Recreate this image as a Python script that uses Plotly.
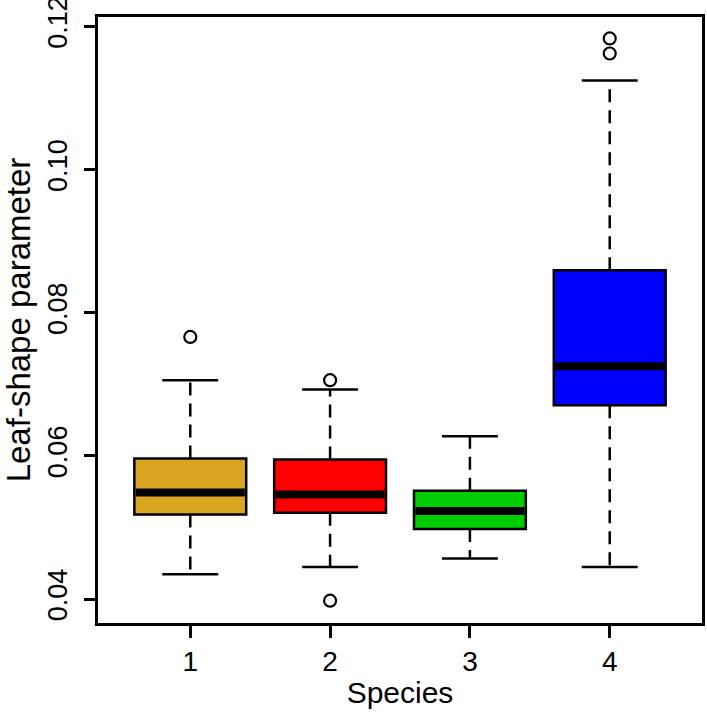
import plotly.graph_objects as go

species = [1, 2, 3, 4]
colors = ["#DAA520", "#FF0000", "#00CD00", "#0000FF"]
lower_whisker = [0.04345, 0.04447, 0.04568, 0.04447]
q1 = [0.05182, 0.05205, 0.04977, 0.06709]
median = [0.05490, 0.05462, 0.05229, 0.07253]
q3 = [0.05964, 0.05950, 0.05512, 0.08593]
upper_whisker = [0.07058, 0.06928, 0.06276, 0.11246]
outliers = [[0.07662], [0.07058, 0.03977], [], [0.11623, 0.11833]]

y_ticks = [0.04, 0.06, 0.08, 0.10, 0.12]
y_tick_labels = ["0.04", "0.06", "0.08", "0.10", "0.12"]
x_tick_labels = ["1", "2", "3", "4"]

BOX_HALF = 0.4
CAP_HALF = 0.2
FAMILY = "Liberation Sans, Arial, sans-serif"
TICKFONT = dict(family=FAMILY, size=27, color="black")
XTICKFONT = dict(family=FAMILY, size=28, color="black")
XTITLEFONT = dict(family=FAMILY, size=30, color="black")
YTITLEFONT = dict(family=FAMILY, size=33, color="black")

fig = go.Figure()

# boxes
fig.add_trace(go.Bar(
    x=species, base=q1, y=[b - a for a, b in zip(q1, q3)], width=2 * BOX_HALF,
    marker=dict(color=colors, line=dict(color="black", width=2.5)),
    showlegend=False, hoverinfo="skip"))

for i, s in enumerate(species):
    # dashed whiskers
    fig.add_trace(go.Scatter(
        x=[s, s, None, s, s], y=[q3[i], upper_whisker[i], None, q1[i], lower_whisker[i]],
        mode="lines", line=dict(color="black", width=2.5, dash="13px,8px"),
        showlegend=False, hoverinfo="skip"))
    # caps
    fig.add_trace(go.Scatter(
        x=[s - CAP_HALF, s + CAP_HALF, None, s - CAP_HALF, s + CAP_HALF],
        y=[upper_whisker[i], upper_whisker[i], None, lower_whisker[i], lower_whisker[i]],
        mode="lines", line=dict(color="black", width=2.5),
        showlegend=False, hoverinfo="skip"))
    # median
    fig.add_trace(go.Scatter(
        x=[s - BOX_HALF + 0.01, s + BOX_HALF - 0.01], y=[median[i], median[i]],
        mode="lines", line=dict(color="black", width=8),
        showlegend=False, hoverinfo="skip"))
    # outliers
    if outliers[i]:
        fig.add_trace(go.Scatter(
            x=[s] * len(outliers[i]), y=outliers[i], mode="markers",
            marker=dict(symbol="circle-open", size=12, color="black", line=dict(width=2.2)),
            showlegend=False, hoverinfo="skip"))

fig.update_layout(
    width=707, height=721,
    margin=dict(l=98, r=5, t=17, b=98, autoexpand=False),
    paper_bgcolor="white", plot_bgcolor="white",
    font=TICKFONT,
    xaxis=dict(
        range=[0.34, 4.66], tickmode="array", tickvals=species, ticktext=x_tick_labels,
        tickfont=XTICKFONT,
        showline=True, mirror=True, linecolor="black", linewidth=2.5,
        ticks="outside", ticklen=12, tickwidth=2.5, tickcolor="black",
        showgrid=False, zeroline=False, automargin=False,
        title=dict(text="Species", font=XTITLEFONT, standoff=6)),
    yaxis=dict(
        range=[0.03665, 0.12133], tickmode="array", tickvals=y_ticks, ticktext=y_tick_labels,
        tickangle=-90, tickfont=TICKFONT, ticklabelstandoff=6, ticklabeloverflow="allow",
        showline=True, mirror=True, linecolor="black", linewidth=2.5,
        ticks="outside", ticklen=11, tickwidth=2.5, tickcolor="black",
        showgrid=False, zeroline=False, automargin=False,
        title=dict(text="Leaf-shape parameter", font=YTITLEFONT, standoff=5)),
)

fig.write_html("out.html", config={"displayModeBar": False},
               post_script="document.body.style.margin='0';")
